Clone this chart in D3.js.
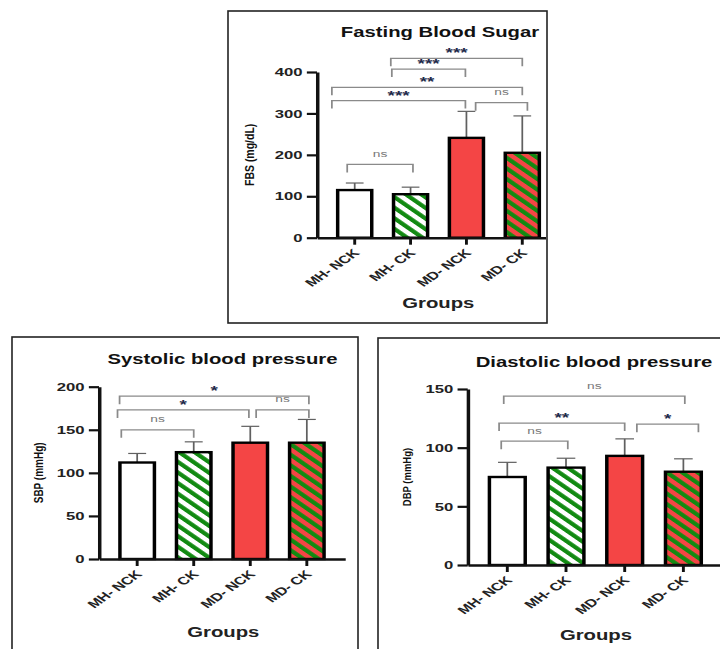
<!DOCTYPE html>
<html>
<head>
<meta charset="utf-8">
<script src="https://cdn.jsdelivr.net/npm/d3@7"></script>
<style>
  body { margin: 0; background: #fff; }
  svg { display: block; }
  text { font-family: "Liberation Sans", Arial, sans-serif; }
</style>
</head>
<body>
<svg id="chart" width="720" height="649"></svg>
<script>
// ---- data ----
const groups = ['MH- NCK', 'MH- CK', 'MD- NCK', 'MD- CK']

const fbsMean = [115, 105, 241, 205]
const fbsSD = [17, 17, 64, 89]
const fbsTicks = [0, 100, 200, 300, 400]
const fbsComparisons = [
  { from: 0, to: 1, label: 'ns', level: 177 },
  { from: 1, to: 3, label: '***', level: 433 },
  { from: 1, to: 2, label: '***', level: 407 },
  { from: 0, to: 3, label: '**', level: 363 },
  { from: 0, to: 2, label: '***', level: 331 },
  { from: 2, to: 3, label: 'ns', level: 326 }
]

const sbpMean = [112, 124, 135, 135]
const sbpSD = [10.5, 12, 19, 27]
const sbpTicks = [0, 50, 100, 150, 200]
const sbpComparisons = [
  { from: 0, to: 3, label: '*', level: 189 },
  { from: 0, to: 2, label: '*', level: 173 },
  { from: 2, to: 3, label: 'ns', level: 173 },
  { from: 0, to: 1, label: 'ns', level: 150 }
]

const dbpMean = [75, 83, 93, 79.5]
const dbpSD = [12.5, 8, 14.5, 11]
const dbpTicks = [0, 50, 100, 150]
const dbpComparisons = [
  { from: 0, to: 3, label: 'ns', level: 144 },
  { from: 0, to: 2, label: '**', level: 121 },
  { from: 2, to: 3, label: '*', level: 120 },
  { from: 0, to: 1, label: 'ns', level: 105.5 }
]

// ---- layout / style ----
const SX = 1.45          // the figure is stretched horizontally
const DROP = 8           // bracket arm length
const GREEN = '#128a12'
const RED = '#f44545'
const fills = ['#ffffff', 'url(#hatch-white)', RED, 'url(#hatch-red)']

// bracket end nudges, as fraction of bar width (left end, right end)
const fbsNudge = [[-0.22, 0.07], [-0.58, 0], [-0.55, -0.03], [-0.67, 0], [-0.67, -0.03], [0.27, 0.15]]
const sbpNudge = [[-0.51, 0.06], [-0.57, -0.04], [0.17, 0.06], [-0.46, 0]]
const dbpNudge = [[-0.10, 0.04], [-0.23, 0], [0.34, 0.42], [-0.17, 0.05]]

const panels = [
  {
    id: 'fbs', title: 'Fasting Blood Sugar', yLabel: 'FBS (mg/dL)',
    mean: fbsMean, sd: fbsSD, ticks: fbsTicks, comps: fbsComparisons, nudge: fbsNudge,
    frame: { x: 228, y: 11, w: 319, h: 312 },
    axisX: 317, xEnd: 560, y0: 237.7, yTop: 72,
    titleAt: [440, 36.7], groupsAt: [438.3, 307.7], yLabelX: 249.7, yLabelSize: 10.5
  },
  {
    id: 'sbp', title: 'Systolic blood pressure', yLabel: 'SBP (mmHg)',
    mean: sbpMean, sd: sbpSD, ticks: sbpTicks, comps: sbpComparisons, nudge: sbpNudge,
    frame: { x: 12, y: 337, w: 346, h: 320 },
    axisX: 99, xEnd: 345, y0: 559, yTop: 386.7,
    titleAt: [222.5, 364], groupsAt: [223.3, 636.7], yLabelX: 38.3, yLabelSize: 10
  },
  {
    id: 'dbp', title: 'Diastolic blood pressure', yLabel: 'DBP (mmHg)',
    mean: dbpMean, sd: dbpSD, ticks: dbpTicks, comps: dbpComparisons, nudge: dbpNudge,
    frame: { x: 378, y: 338, w: 360, h: 320 },
    axisX: 467.7, xEnd: 723, y0: 565, yTop: 389,
    titleAt: [594, 366.7], groupsAt: [596, 640], yLabelX: 406.7, yLabelSize: 9.5
  }
]

const svg = d3.select('#chart')
const defs = svg.append('defs')

// Hatch patterns
function hatch(id, bg) {
  const p = defs.append('pattern')
    .attr('id', id)
    .attr('patternUnits', 'userSpaceOnUse')
    .attr('width', 7.5)
    .attr('height', 7.5)
    .attr('patternTransform', 'rotate(-45)')
  p.append('rect').attr('width', 7.5).attr('height', 7.5).attr('fill', bg)
  p.append('rect').attr('width', 3.6).attr('height', 7.5).attr('fill', GREEN)
}
hatch('hatch-white', '#ffffff')
hatch('hatch-red', RED)

function drawPanel(p) {
  const f = p.frame
  const lx = v => (v - f.x) / SX

  // Frame
  svg.append('rect')
    .attr('x', f.x)
    .attr('y', f.y)
    .attr('width', f.w)
    .attr('height', f.h)
    .attr('fill', 'none')
    .attr('stroke', '#222')
    .attr('stroke-width', 1.6)

  defs.append('clipPath').attr('id', 'clip-' + p.id)
    .append('rect')
    .attr('x', f.x + 1).attr('y', f.y + 1)
    .attr('width', f.w - 2).attr('height', f.h - 2)

  const g = svg.append('g')
    .attr('clip-path', `url(#clip-${p.id})`)
    .append('g')
    .attr('transform', `translate(${f.x},0) scale(${SX},1)`)

  const x = d3.scaleBand()
    .domain(groups)
    .range([lx(p.axisX), lx(p.xEnd)])
    .paddingInner(0.39)
    .paddingOuter(0.37)
  const y = d3.scaleLinear()
    .domain([0, d3.max(p.ticks)])
    .range([p.y0, p.yTop])
  const bw = x.bandwidth()
  const cx = i => x(groups[i]) + bw / 2

  // Error bars (upper half only, drawn under the bars)
  const err = g.append('g').attr('stroke', '#606060').attr('stroke-width', 1.2)
  err.selectAll('line.stem')
    .data(p.mean)
    .join('line')
    .attr('x1', (d, i) => cx(i))
    .attr('x2', (d, i) => cx(i))
    .attr('y1', d => y(d))
    .attr('y2', (d, i) => y(d + p.sd[i]))
  err.selectAll('line.cap')
    .data(p.mean)
    .join('line')
    .attr('x1', (d, i) => cx(i) - bw * 0.26)
    .attr('x2', (d, i) => cx(i) + bw * 0.26)
    .attr('y1', (d, i) => y(d + p.sd[i]))
    .attr('y2', (d, i) => y(d + p.sd[i]))

  // Bars
  g.append('g').selectAll('rect')
    .data(p.mean)
    .join('rect')
    .attr('x', (d, i) => x(groups[i]))
    .attr('y', d => y(d))
    .attr('width', bw)
    .attr('height', d => y(0) - y(d))
    .attr('fill', (d, i) => fills[i])
    .attr('stroke', '#000')
    .attr('stroke-width', 2.4)

  // Y axis
  const yAxis = g.append('g')
    .attr('transform', `translate(${x.range()[0]},0)`)
    .call(d3.axisLeft(y).tickValues(p.ticks).tickSize(7).tickSizeOuter(0).tickPadding(3))
  yAxis.select('.domain').attr('stroke', '#111').attr('stroke-width', 2.4)
  yAxis.selectAll('.tick line').attr('stroke', '#111').attr('stroke-width', 2.2)
  yAxis.selectAll('.tick text')
    .attr('font-size', 11.5)
    .attr('font-weight', 'bold')
    .attr('fill', '#222')

  // X axis
  const xAxis = g.append('g')
    .attr('transform', `translate(0,${p.y0})`)
    .call(d3.axisBottom(x).tickSize(7).tickSizeOuter(0))
  xAxis.select('.domain').attr('stroke', '#111').attr('stroke-width', 2.4)
  xAxis.selectAll('.tick line').attr('stroke', '#111').attr('stroke-width', 2)
  xAxis.selectAll('.tick text')
    .attr('y', 0)
    .attr('dy', 0)
    .attr('transform', 'translate(4,16) rotate(-45)')
    .attr('text-anchor', 'end')
    .attr('font-size', 11)
    .attr('font-weight', 'bold')
    .attr('fill', '#222')

  // Significance brackets
  p.comps.forEach((c, i) => {
    const x1 = cx(c.from) + p.nudge[i][0] * bw
    const x2 = cx(c.to) + p.nudge[i][1] * bw
    const yl = y(c.level)
    g.append('path')
      .attr('d', `M${x1},${yl + DROP}V${yl}H${x2}V${yl + DROP}`)
      .attr('fill', 'none')
      .attr('stroke', '#8a8a8a')
      .attr('stroke-width', 1.2)
    const star = c.label !== 'ns'
    g.append('text')
      .attr('x', (x1 + x2) / 2)
      .attr('y', star ? yl - 1 : yl - 7.5)
      .attr('text-anchor', 'middle')
      .attr('font-size', star ? 13 : 9.5)
      .attr('font-weight', star ? 'bold' : 'normal')
      .attr('fill', star ? '#1e2a4a' : '#777')
      .text(c.label)
  })

  // Title
  g.append('text')
    .attr('x', lx(p.titleAt[0]))
    .attr('y', p.titleAt[1])
    .attr('text-anchor', 'middle')
    .attr('font-size', 14)
    .attr('font-weight', 'bold')
    .attr('fill', '#111')
    .text(p.title)

  // X axis title
  g.append('text')
    .attr('x', lx(p.groupsAt[0]))
    .attr('y', p.groupsAt[1])
    .attr('text-anchor', 'middle')
    .attr('font-size', 14)
    .attr('font-weight', 'bold')
    .attr('fill', '#222')
    .text('Groups')

  // Y axis title (only slightly stretched)
  g.append('text')
    .attr('transform', `translate(${lx(p.yLabelX)},${(p.y0 + p.yTop) / 2}) scale(${1.2 / SX},1) rotate(-90)`)
    .attr('text-anchor', 'middle')
    .attr('dy', '0.35em')
    .attr('font-size', p.yLabelSize)
    .attr('font-weight', 'bold')
    .attr('fill', '#111')
    .text(p.yLabel)
}

panels.forEach(drawPanel)
</script>
</body>
</html>
